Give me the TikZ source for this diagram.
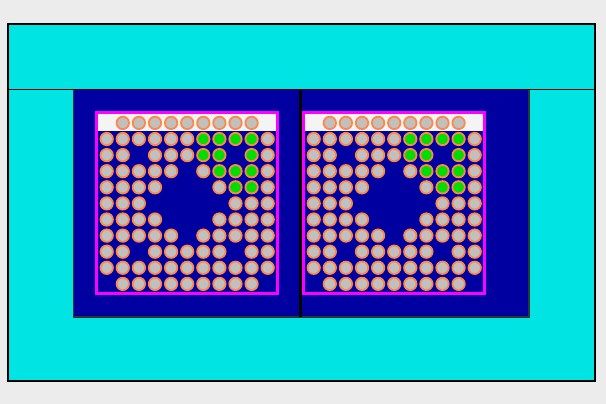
\documentclass[tikz,border=0pt]{standalone}
\usepackage{tikz}

\definecolor{coolant}{RGB}{0,228,228}
\definecolor{moder}{RGB}{0,0,160}
\definecolor{canbox}{RGB}{255,0,255}
\definecolor{cladding}{RGB}{255,136,72}
\definecolor{fuelgray}{RGB}{192,192,192}
\definecolor{fuelgreen}{RGB}{0,222,0}
\definecolor{stripw}{RGB}{244,244,244}
\definecolor{backg}{RGB}{236,236,236}

\begin{document}
\begin{tikzpicture}[
    x=0.25mm, y=-0.25mm,
    pin/.style={draw=cladding, line width=0.45mm, fill=fuelgray},
    hotpin/.style={pin, fill=fuelgreen},
    canline/.style={draw=canbox, line width=0.75mm},
    frame/.style={draw=black, line width=0.5mm}
]
    % Background
    \fill[backg] (0,0) rectangle (606,404);
    \useasboundingbox (0,0) rectangle (606,404);

    % Outer frame and coolant
    \fill[coolant] (8,24.5) rectangle (595,380.5);
    \fill[moder] (73.5,89.5) rectangle (529,317);
    \draw[black!80, line width=0.3mm] (73.5,89.5) rectangle (529,317);
    \draw[frame] (8,24.5) rectangle (595,380.5);
    \draw[black, line width=0.45mm] (8,89.5) -- (595,89.5);
    \draw[black, line width=0.55mm] (300.5,89.5) -- (300.5,317);

    % Two assemblies
    \foreach \dx in {0,207} {
        \begin{scope}[shift={(\dx,0)}]
            \fill[stripw] (98,114) rectangle (276,131);
            \draw[canline] (96.5,112.5) rectangle (277.5,293.5);
            % top row in the strip
            \foreach \c in {2,...,10}
                \draw[pin] ({106.7+16.1*(\c-1)},122.9) circle (6.2);
            % gray pins
            \foreach \r/\cols in {1/{1,2,3,4,5,6,11}, 2/{1,2,4,5,6,11},
                3/{1,2,3,4,5,7,11}, 4/{1,2,3,4,8,11}, 5/{1,2,3,9,10,11},
                6/{1,2,3,4,8,9,10,11}, 7/{1,2,3,4,5,7,8,9,10,11},
                8/{1,2,4,5,6,7,8,10,11}, 9/{1,2,3,4,5,6,7,8,9,10,11},
                10/{2,3,4,5,6,7,8,9,10}}
                \foreach \c in \cols
                    \draw[pin] ({106.7+16.1*(\c-1)},{122.9+16.1*\r}) circle (6.2);
            % green pins
            \foreach \r/\cols in {1/{7,8,9,10}, 2/{7,8,10}, 3/{8,9,10}, 4/{9,10}}
                \foreach \c in \cols
                    \draw[hotpin] ({106.7+16.1*(\c-1)},{122.9+16.1*\r}) circle (6.2);
        \end{scope}
    }
\end{tikzpicture}
\end{document}
